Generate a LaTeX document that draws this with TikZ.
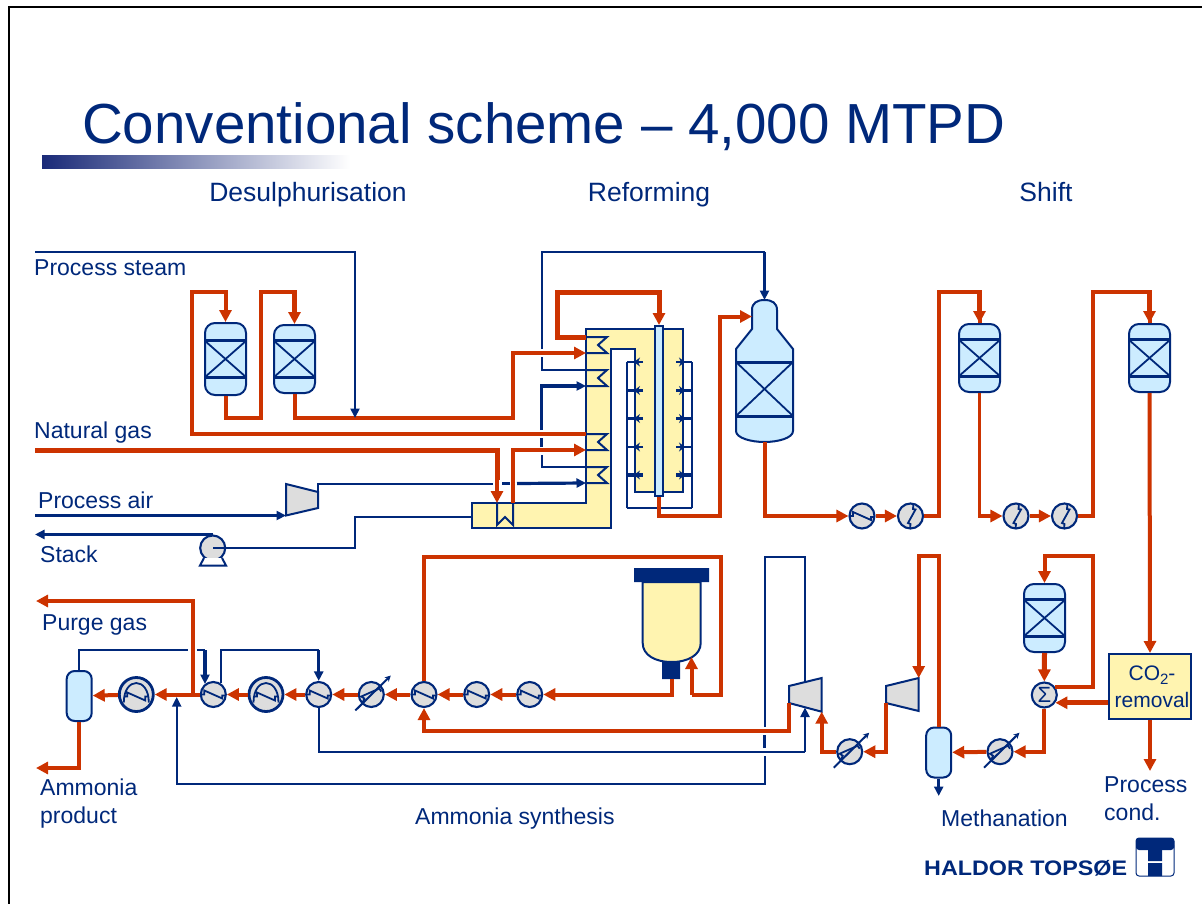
\documentclass[tikz,border=0pt]{standalone}
\usepackage{fontspec}
\setmainfont{Liberation Sans}
\newfontfamily\logofont[FakeStretch=1.11]{Liberation Sans Bold}
\usepackage{xcolor}
\usetikzlibrary{arrows.meta,positioning}
\definecolor{htblue}{HTML}{00287A}
\definecolor{htred}{HTML}{CC3300}
\definecolor{vesselblue}{HTML}{CCECFF}
\definecolor{furnaceyellow}{HTML}{FFF4B0}
\definecolor{compgray}{HTML}{DDDDDD}
\definecolor{barblue}{HTML}{1A2A78}

\begin{document}
\begin{tikzpicture}[
  x=1pt,y=-1pt,
  redtip/.tip={Triangle[length=12pt,width=12pt]},
  bluetip/.tip={Triangle[length=9.5pt,width=9pt]},
  pipe/.style={htred,line width=4pt},
  pipeheavy/.style={htred,line width=5pt},
  pipethin/.style={htred,line width=3.4pt},
  flow/.style={-redtip},
  steam/.style={htblue,line width=2pt},
  steamheavy/.style={htblue,line width=3.2pt},
  bflow/.style={-bluetip},
  lab/.style={text=htblue,anchor=base west,inner sep=0pt,font=\fontsize{23}{28}\selectfont},
  section/.style={text=htblue,anchor=base,inner sep=0pt,font=\fontsize{26.5}{30}\selectfont},
  shell/.style={draw=htblue,line width=2pt,fill=vesselblue},
  drum/.style={shell,rectangle,inner sep=0pt,minimum width=25pt,minimum height=50pt,rounded corners=8pt},
  bed/.style={shell,rectangle,inner sep=0pt,minimum width=41pt,minimum height=68pt,rounded corners=10pt,
    path picture={\begin{scope}[shift={(path picture bounding box.center)},htblue]
      \draw[line width=3pt] (-21,-18.5) -- (21,-18.5) (-21,18.5) -- (21,18.5);
      \draw[line width=1.8pt] (-21,-18.5) -- (21,18.5) (-21,18.5) -- (21,-18.5);
    \end{scope}}},
  disc/.style={circle,draw=htblue,line width=2.1pt,fill=compgray,minimum size=25pt,inner sep=0pt},
  exch/.style={disc,path picture={\draw[htblue,line width=1.8pt,shift={(path picture bounding box.center)}]
    (-13,0) -- (-9,0) -- (-9,-4) -- (9,4) -- (9,1) -- (13,1);}},
  exchup/.style={disc,path picture={\draw[htblue,line width=1.8pt,shift={(path picture bounding box.center)}]
    (3,-13) -- (2.5,-7) -- (5,-6.5) -- (-2.5,7) -- (0,8) -- (-.5,13);}},
  chiller/.style={disc,minimum size=34pt,line width=2.8pt,path picture={\draw[htblue,line width=1.8pt,shift={(path picture bounding box.center)}]
    (-12.5,8) .. controls (-12.5,-18) and (12.5,-18) .. (12.5,8)
    (-12,2) -- (-9,2) -- (-9,-2) -- (9,6) -- (9,2) -- (12,2);}},
  cooler/.style={disc,path picture={\draw[htblue,line width=1.8pt,shift={(path picture bounding box.center)}]
    (-9,9) -- (-7,4) -- (-10,2) -- (8,-6) -- (10,-3);}},
  comp/.style={draw=htblue,line width=2pt,fill=compgray}
]
  \useasboundingbox (0,0) rectangle (1202,904);
  \draw[black,line width=2pt] (9,904) -- (9,7) -- (1202,7);

  \node[text=htblue,anchor=base west,inner sep=0pt,font=\fontsize{56.5}{60}\selectfont] (title) at (82,144) {Conventional scheme – 4,000 MTPD};
  \shade[left color=barblue,right color=white] (42,156) rectangle (350,169);

  \node[section] (desulph) at (308,202) {Desulphurisation};
  \node[section] (reforming) at (649,202) {Reforming};
  \node[section] (shift) at (1046,202) {Shift};
  \node[lab] (steamlab) at (34,275) {Process steam};
  \node[lab] (nglab) at (34,438) {Natural gas};
  \node[lab] (airlab) at (38,508) {Process air};
  \node[lab] (stacklab) at (40,562) {Stack};
  \node[lab] (purgelab) at (42,630) {Purge gas};
  \node[lab,align=left] (productlab) at (40,823) {Ammonia\\product};
  \node[lab] (synthlab) at (415,824) {Ammonia synthesis};
  \node[lab] (methlab) at (941,826) {Methanation};
  \node[lab,align=left] (condlab) at (1104,820) {Process\\cond.};

  \node[bed,minimum height=72pt] (desa) at (225.5,359) {};
  \node[bed] (desb) at (294.5,359) {};
  \node[bed] (shifta) at (979.5,358) {};
  \node[bed] (shiftb) at (1149.5,358) {};
  \node[bed] (meth) at (1044.5,618) {};

  \filldraw[draw=htblue,line width=2pt,fill=furnaceyellow] (586,329) -- (683,329) -- (683,492) -- (635,492) -- (635,349) -- (611,349) -- (611,528) -- (472,528) -- (472,503) -- (586,503) -- cycle;
  \node[shell,rectangle,inner sep=0pt,minimum width=8pt,minimum height=170pt] (tube) at (659,411) {};
  \foreach \y/\n in {337/a,370/b,434/c,467/d}
    \draw[steam] (586,\y) coordinate (coil\n-top) -- ++(21,0) -- ++(-9,8) -- ++(9,8) -- ++(-21,0) coordinate (coil\n-bot);
  \draw[steam] (497,503) coordinate (fluein) -- (497,525) -- (505,517) -- (513,525) -- (513,503) coordinate (flueout);
  \coordinate (fluewest) at (472,516.5);

  \draw[steam] (627,508) -- (627,362) (692,508) -- (692,362) (627,508) -- (692,508);
  \foreach \y/\w in {362/2,390.5/3.4,418.5/3.4,447/2,475/3.4}{
    \draw[htblue,line width=\w pt] (627,\y) -- (643,\y) (692,\y) -- (676,\y);
    \draw[steam,-{Stealth[length=6pt,width=9pt]}] (643,\y) -- (634,\y);
    \draw[steam,-{Stealth[length=6pt,width=9pt]}] (676,\y) -- (685,\y);
  }

  \draw[shell] (752,329) -- (752,310) .. controls (752,303) and (757,300) .. (764.5,300) coordinate (srtop)
    .. controls (772,300) and (777,303) .. (777,310) -- (777,329) -- (793,349) -- (793,431)
    .. controls (793,438) and (778,442) .. (764.5,442) coordinate (srbot)
    .. controls (751,442) and (736,438) .. (736,431) -- (736,349) -- cycle;
  \draw[htblue,line width=3pt] (736,362) -- (793,362) (736,416) -- (793,416);
  \draw[htblue,line width=1.8pt] (736,362) -- (793,416) (736,416) -- (793,362);
  \coordinate (srin) at (752,316.5);

  \draw[draw=htblue,line width=2pt,fill=furnaceyellow] (642.7,582) -- (642.7,643)
    .. controls (642.7,655) and (655,662) .. (671.7,662) .. controls (688,662) and (700.7,655) .. (700.7,643)
    -- (700.7,582) -- cycle;
  \fill[htblue] (634,568) rectangle (709,582) (662,661) rectangle (680,679);
  \coordinate (convout) at (671.5,679);
  \coordinate (convin) at (691.5,657);

  \draw[comp] (286,484) -- (318,492) coordinate (airout) -- (318,508) -- (286,515.5) coordinate (airin) -- cycle;
  \draw[comp] (789,686) -- (821.7,678) -- (821.7,711.7) coordinate (recin) -- (789,703) coordinate (recout) -- cycle;
  \coordinate (rectop) at (805,682);
  \coordinate (recbot) at (805,707.5);
  \draw[comp] (886,686) -- (918.7,678) coordinate (syntop) -- (918.7,711) -- (886,703) coordinate (synout) -- cycle;

  \node[disc,fill=compgray] (pump) at (212.7,548) {};
  \draw[htblue,line width=2pt,fill=white] (204,558) -- (200,565.5) -- (226,565.5) -- (222,558);

  \node[exch] (hxa) at (862,516) {};
  \node[exchup] (hxb) at (910.5,516) {};
  \node[exchup] (hxc) at (1016,516) {};
  \node[exchup] (hxd) at (1064.5,516) {};
  \node[drum] (sepa) at (79.2,696) {};
  \node[chiller] (chilla) at (136.3,694.5) {};
  \node[exch] (loopa) at (213.3,694.5) {};
  \node[chiller] (chillb) at (266,694.5) {};
  \node[exch] (loopb) at (318.7,694.5) {};
  \node[cooler] (coola) at (371.3,694.5) {};
  \node[exch] (loopc) at (424,694.5) {};
  \node[exch] (loopd) at (476.7,694.5) {};
  \node[exch] (loope) at (529.7,694.5) {};
  \node[cooler] (coolb) at (849.7,751.7) {};
  \node[cooler] (coolc) at (1000,751.7) {};
  \node[drum] (sepb) at (938.7,752.5) {};
  \node[disc,text=htblue,font=\fontsize{22}{22}\selectfont] (mix) at (1044.3,695) {Σ};
  \node[draw=htblue,line width=2pt,fill=furnaceyellow,inner sep=0pt,minimum width=81.5pt,minimum height=65pt,align=center,text=htblue,font=\fontsize{21}{26}\selectfont] (co2) at (1150,686.5) {\hspace*{4pt}CO\raisebox{-4pt}{\fontsize{15}{15}\selectfont 2}-\\[1pt]\hspace*{4pt}removal};

  \foreach \n in {coola,coolb,coolc}
    \draw[steam,-{Stealth[length=6pt,width=6pt]}] ([shift={(-16,16)}]\n.center) -- ([shift={(19.5,-19)}]\n.center);

  \coordinate (steamfeed) at (35,252);
  \coordinate (ngfeed) at (35,450.5);
  \coordinate (airfeed) at (35,515.5);
  \coordinate (stackend) at (35,0 |- pump.north);
  \coordinate (purgeend) at (36,601);
  \coordinate (productend) at (36,768);
  \coordinate (sepvent) at (938.7,796);
  \coordinate (condend) at (1150,771);
  \coordinate (purgetee) at (193,694.5);
  \coordinate (recycle) at (176.7,697);

  \draw[pipe] (coilc-top) -| (192,292) -| (225.5,300);
  \draw[pipe,flow] (225.5,300) -- (desa.north);
  \draw[pipe] (desa.south) |- (261,418) |- (294.5,292) -- (294.5,300);
  \draw[pipeheavy,flow] (294.5,292) -- (desb.north);
  \draw[pipe] (desb.south) |- (513,418) |- (560,353);
  \draw[pipe,flow] (560,353) -- (coila-bot);
  \draw[pipeheavy] (ngfeed) -| (497,480);
  \draw[pipe,flow] (497,470) -- (fluein);
  \draw[pipe,flow] (flueout) |- (coilc-bot);
  \draw[pipeheavy,flow] (coila-top) -| (557,292) -| (tube.north);
  \draw[pipe,flow] (tube.south) |- (720,516) |- (srin);
  \draw[pipe,flow] (srbot) |- (hxa.west);
  \draw[pipe,flow] (hxa) -- (hxb);
  \draw[pipe] (hxb.east) -| (939,292) -| (shifta.north);
  \draw[pipeheavy,flow] (979.5,292) -- (shifta.north);
  \draw[pipethin,flow] (shifta.south) |- (hxc.west);
  \draw[pipe,flow] (hxc) -- (hxd);
  \draw[pipe] (hxd.east) -| (1093,292) -| (shiftb.north);
  \draw[pipeheavy,flow] (1149.5,292) -- (shiftb.north);
  \draw[pipe,flow] (shiftb.south) -- (co2.north);
  \draw[pipe,flow] (co2.south) -- (condend);
  \draw[pipeheavy,flow] (co2.west |- mix.-35) -- (mix.-35);
  \draw[pipeheavy,flow] (meth.south) -- (mix.north);
  \draw[pipe] (mix.35) -| (1093,556) -| (1044.5,570);
  \draw[pipe,flow] (1044.5,565) -- (meth.north);
  \draw[pipe,flow] (mix.south) |- (coolc.east);
  \draw[pipe,flow] (coolc) -- (sepb);
  \draw[pipe,flow] (sepb.north) |- (918.7,556) -- (syntop);
  \draw[pipe,flow] (synout) |- (coolb.east);
  \draw[pipe,flow] (coolb.west) -| (recin);
  \draw[pipe,flow] (recout) |- (424,731) -- (loopc.south);
  \draw[pipe] (loopc.north) |- (720.5,556.5) |- (691.5,694.5);
  \draw[pipe,flow] (691.5,694.5) -- (convin);
  \draw[pipe,flow] (convout) |- (loope.east);
  \draw[pipe,flow] (loope) -- (loopd);
  \draw[pipe,flow] (loopd) -- (loopc);
  \draw[pipe,flow] (loopc) -- (coola);
  \draw[pipe,flow] (coola) -- (loopb);
  \draw[pipe,flow] (loopb) -- (chillb);
  \draw[pipe,flow] (chillb) -- (loopa);
  \draw[pipe,flow] (loopa) -- (chilla);
  \draw[pipe,flow] (chilla) -- (sepa);
  \draw[pipe,flow] (purgetee) |- (purgeend);
  \draw[pipe,flow] (sepa.south) |- (productend);

  \draw[steam,bflow] (steamfeed) -| (355,418);
  \draw[steam] (coilb-top) -| (541.5,357);
  \draw[steam] (541.5,349) |- (764.5,252);
  \draw[steamheavy,bflow] (764.5,252) -- (srtop);
  \draw[steam] (coild-top) -| (541.5,455);
  \draw[steamheavy] (541.5,447) -- (541.5,438);
  \draw[steamheavy,bflow] (541.5,430) |- (coilb-bot);
  \draw[steam] (airout) |- (493,483.5);
  \draw[steamheavy] (502,483.5) -- (510,483.5);
  \draw[steamheavy,bflow] (517,483.5) -- (coild-bot);
  \draw[steam] (fluewest) -| (355,548) -- (pump.center);
  \draw[steamheavy,bflow] (airfeed) -- (airin);
  \draw[steamheavy,bflow] (pump.north) -- (stackend);
  \draw[steamheavy,bflow] (sepb.south) -- (sepvent);
  \draw[steam] (sepa.north) |- (188,650);
  \draw[steam] (197,650) -- (205,650);
  \draw[steamheavy,bflow] (205,650) -- (205,684);
  \draw[steam] (221,683) |- (318.7,650);
  \draw[steamheavy,bflow] (318.7,650) -- (loopb.north);
  \draw[htblue,line width=2.4pt] (loopb.south) |- (805,752);
  \draw[htblue,line width=2.4pt,bflow] (805,752) -- (recbot);
  \draw[steam,bflow] (764.7,756) |- (176.7,784) -- (recycle);
  \draw[steamheavy] (764.7,748) -- (764.7,735);
  \draw[steam] (764.7,727) |- (805,556.7) -- (rectop);

  \node[text=htblue,anchor=base west,inner sep=0pt,font=\logofont\fontsize{21}{24}\selectfont] (logotext) at (924,875) {HALDOR TOPSØE};
  \node[draw=htblue,line width=1pt,fill=white,rounded corners=3pt,inner sep=0pt,minimum width=38pt,minimum height=38pt] (logo) at (1155,857) {};
  \fill[htblue,rounded corners=3pt] (1136,838) rectangle (1174,850);
  \fill[htblue] (1136,845) rectangle (1174,848) (1148,848) rectangle (1162,861) (1148,863) rectangle (1162,876);
\end{tikzpicture}
\end{document}
